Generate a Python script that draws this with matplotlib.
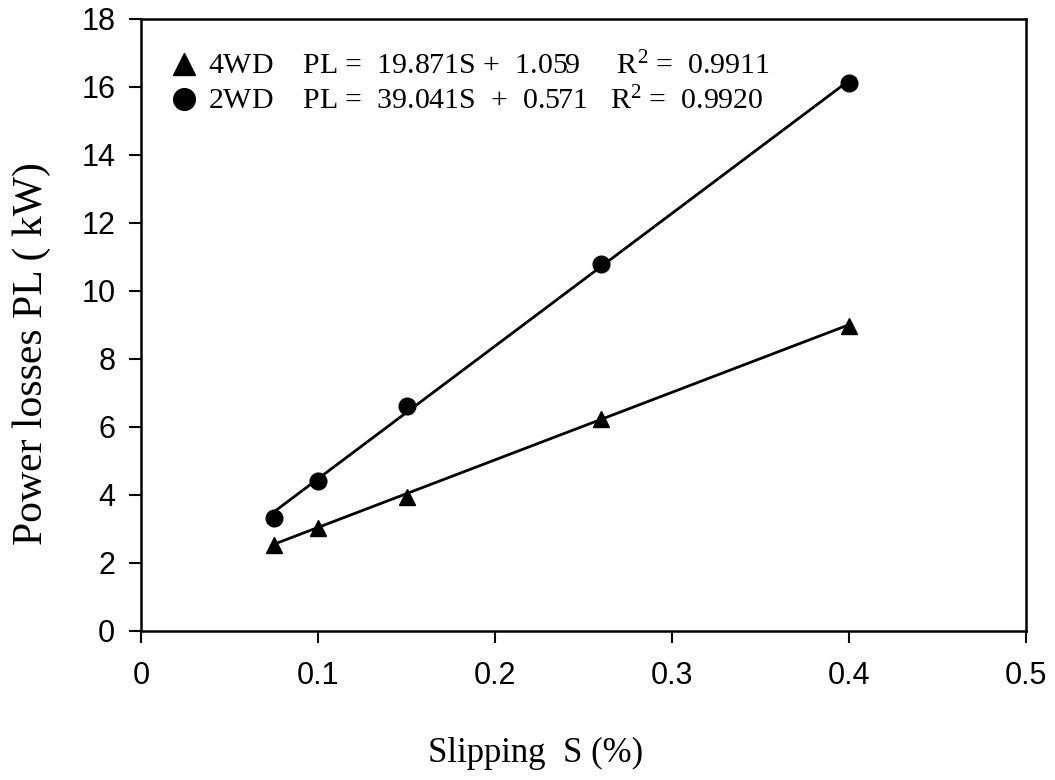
import matplotlib
matplotlib.use("Agg")
import matplotlib.pyplot as plt
import numpy as np

# Data
slip = [0.075, 0.10, 0.15, 0.26, 0.40]
pl_4wd = [2.52, 3.03, 3.95, 6.25, 8.97]
pl_2wd = [3.33, 4.42, 6.62, 10.80, 16.12]
fit_4wd = (19.871, 1.059, 0.9911)
fit_2wd = (39.041, 0.571, 0.9920)
xticks = [0, 0.1, 0.2, 0.3, 0.4, 0.5]
yticks = [0, 2, 4, 6, 8, 10, 12, 14, 16, 18]

plt.rcParams['mathtext.fontset'] = 'custom'
plt.rcParams['mathtext.rm'] = 'Liberation Serif'
plt.rcParams['mathtext.it'] = 'Liberation Serif:italic'

fig = plt.figure(figsize=(10.55, 7.8), dpi=100)
ax = fig.add_axes([141/1055, 1 - 631/780, (1026-141)/1055, (631-19)/780])

xs = np.array([min(slip), max(slip)])
for fit in (fit_4wd, fit_2wd):
    ax.plot(xs, fit[0]*xs + fit[1], color='black', lw=2.0, zorder=2)

h4, = ax.plot(slip, pl_4wd, linestyle='none', marker='^', ms=12, color='black', zorder=3)
h2, = ax.plot(slip, pl_2wd, linestyle='none', marker='o', ms=12, color='black', zorder=3)

lab4 = "4WD    PL =  %.3fS +  %.3f     R$^2$ =  %.4f" % fit_4wd
lab2 = "2WD    PL =  %.3fS  +  %.3f   R$^2$ =  %.4f" % fit_2wd
leg = ax.legend([h4, h2], [lab4, lab2], loc='upper left', bbox_to_anchor=(0.01, 0.985),
                frameon=False, prop={'family': 'Liberation Serif', 'size': 21.5},
                markerscale=1.3, handlelength=0.7, handletextpad=0.45, labelspacing=0.22,
                borderaxespad=0.4)

ax.set_xlim(0, 0.5)
ax.set_ylim(0, 18)
ax.set_xticks(xticks)
ax.set_xticklabels(['0', '0.1', '0.2', '0.3', '0.4', '0.5'])
ax.set_yticks(yticks)
for s in ax.spines.values():
    s.set_linewidth(1.8)
ax.tick_params(axis='both', direction='out', length=8.5, width=1.5, labelsize=22)
ax.tick_params(axis='x', pad=13)
ax.tick_params(axis='y', pad=10)
for t in ax.get_xticklabels() + ax.get_yticklabels():
    t.set_family('Liberation Sans')

fig.text(536/1055, 1 - 753/780, "Slipping  S (%)", ha='center', va='center',
         family='Liberation Serif', fontsize=25)
fig.text(32/1055, 1 - 354/780, "Power losses PL ( kW)", ha='center', va='center',
         rotation=90, family='Liberation Serif', fontsize=30)

fig.savefig("out.png", dpi=100)
